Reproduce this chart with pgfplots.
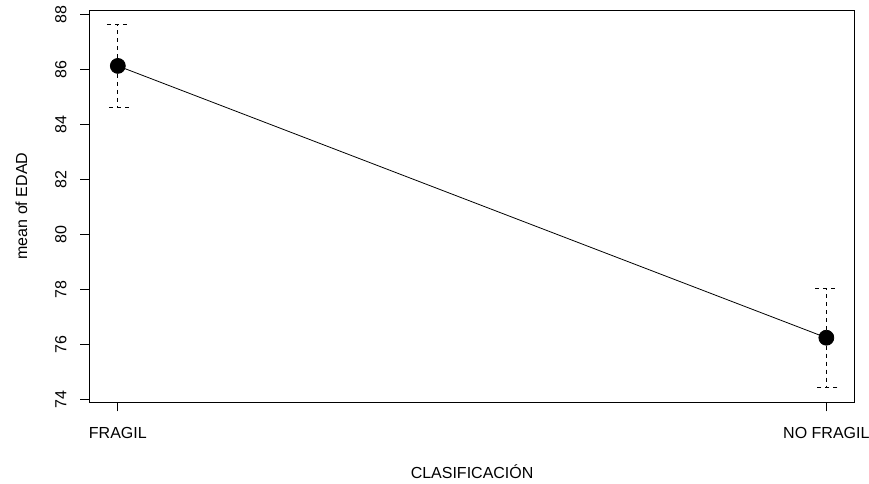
\documentclass[border=0pt]{standalone}
\usepackage{fontspec}
\setmainfont{Liberation Sans}
\usepackage{pgfplots}
\pgfplotsset{compat=1.18}

\begin{document}
\begin{tikzpicture}
\begin{axis}[
  at={(0,0)}, anchor=south west,
  scale only axis, width=573.9pt, height=294pt,
  font=\fontsize{12pt}{14pt}\selectfont,
  /pgf/number format/assume math mode=true,
  xmin=0.96, xmax=2.04, ymin=73.9, ymax=88.17,
  xtick={1,2}, xticklabels={FRAGIL, NO FRAGIL},
  ytick={74,76,78,80,82,84,86,88},
  tick align=outside, xtick pos=left, ytick pos=left,
  major tick length=7pt,
  tick style={black, line width=0.75pt},
  axis line style={line width=0.75pt},
  yticklabel style={rotate=90, anchor=south, inner sep=0pt},
  yticklabel shift=10.1pt,
  xticklabel style={anchor=base, inner sep=0pt, yshift=-20.5pt},
  xlabel={CLASIFICACIÓN},
  ylabel={mean of EDAD},
  xlabel style={at={(axis description cs:0.5,-0.1964)}, anchor=base, inner sep=0pt},
  ylabel style={at={(axis description cs:-0.0814,0.5)}, anchor=base, inner sep=0pt},
]
\addplot[draw=none, error bars/.cd, y dir=both, y explicit,
  error bar style={black, line width=0.75pt, dash pattern=on 3pt off 3pt},
  error mark options={black, line width=0.75pt, mark size=8.25pt, rotate=90, dash pattern=on 3pt off 3pt}]
  coordinates {(1,86.135) +- (0,1.525) (2,76.24) +- (0,1.80)};
\addplot[black, line width=0.6pt, mark=*, mark size=5.6pt, mark options={solid, fill=black}]
  coordinates {(1,86.135) (2,76.24)};
\end{axis}
\pgfresetboundingbox
\path (-67.125pt,-60.75pt) rectangle (584.625pt,301.5pt);
\end{tikzpicture}
\end{document}
